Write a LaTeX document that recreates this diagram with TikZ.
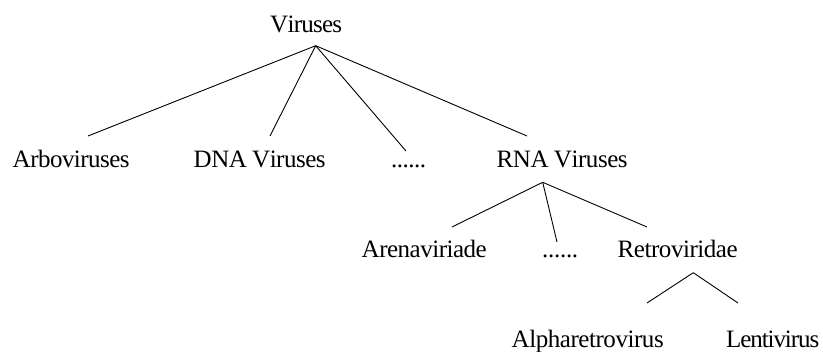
\documentclass[tikz,border=0pt]{standalone}
\usepackage{fontspec}
\setmainfont{Liberation Serif}

% Set a word with its letters spread (or packed) evenly over a given width
\def\spreadrun#1{\ifx#1\relax\else#1\hskip 0pt plus 1fil minus 1fil\relax\expandafter\spreadrun\fi}
\newcommand\spreadtext[2]{\hbox to #1{\spreadrun#2\relax\hskip 0pt plus -1fil minus -1fil\relax}}

\tikzset{
  label/.style={anchor=base west, inner sep=0pt, font=\fontsize{25}{30}\selectfont},
  link/.style={line width=0.9pt, black}
}

\begin{document}
\begin{tikzpicture}[x=1pt, y=-1pt]
  \useasboundingbox (0,0) rectangle (823,352);

  % labels
  \node[label] (viruses) at (270,32.5)   {\spreadtext{72pt}{Viruses}};
  \node[label] (arbo)    at (12.5,167.5) {\spreadtext{117pt}{Arboviruses}};
  \node[label] (dna)     at (193.5,167.5){\spreadtext{132pt}{DNA~Viruses}};
  \node[label] (more1)   at (391,167.5)  {\spreadtext{35pt}{......}};
  \node[label] (rna)     at (496.5,167.5){\spreadtext{131pt}{RNA~Viruses}};
  \node[label] (arena)   at (361.5,257.5){\spreadtext{125pt}{Arenaviriade}};
  \node[label] (more2)   at (542,257.5)  {\spreadtext{36pt}{......}};
  \node[label] (retro)   at (617.5,257.5){\spreadtext{120pt}{Retroviridae}};
  \node[label] (alpha)   at (511.5,347.5){\spreadtext{152pt}{Alpharetrovirus}};
  \node[label] (lenti)   at (726,347.5)  {\spreadtext{93pt}{Lentivirus}};

  % branch points and line ends
  \coordinate (vj)      at (315.7,45.7);
  \coordinate (arbo-e)  at (88,136);
  \coordinate (dna-e)   at (270,136);
  \coordinate (more1-e) at (406,151);
  \coordinate (rna-e)   at (527,136);
  \coordinate (rj)      at (542.7,182.3);
  \coordinate (arena-e) at (452,227);
  \coordinate (more2-e) at (557,242);
  \coordinate (retro-e) at (647,227);
  \coordinate (tj)      at (693.3,272.7);
  \coordinate (alpha-e) at (647,303);
  \coordinate (lenti-e) at (738,303);

  % tree edges
  \draw[link] (vj) -- (arbo-e);
  \draw[link] (vj) -- (dna-e);
  \draw[link] (vj) -- (more1-e);
  \draw[link] (vj) -- (rna-e);
  \draw[link] (rj) -- (arena-e);
  \draw[link] (rj) -- (more2-e);
  \draw[link] (rj) -- (retro-e);
  \draw[link] (tj) -- (alpha-e);
  \draw[link] (tj) -- (lenti-e);
\end{tikzpicture}
\end{document}
